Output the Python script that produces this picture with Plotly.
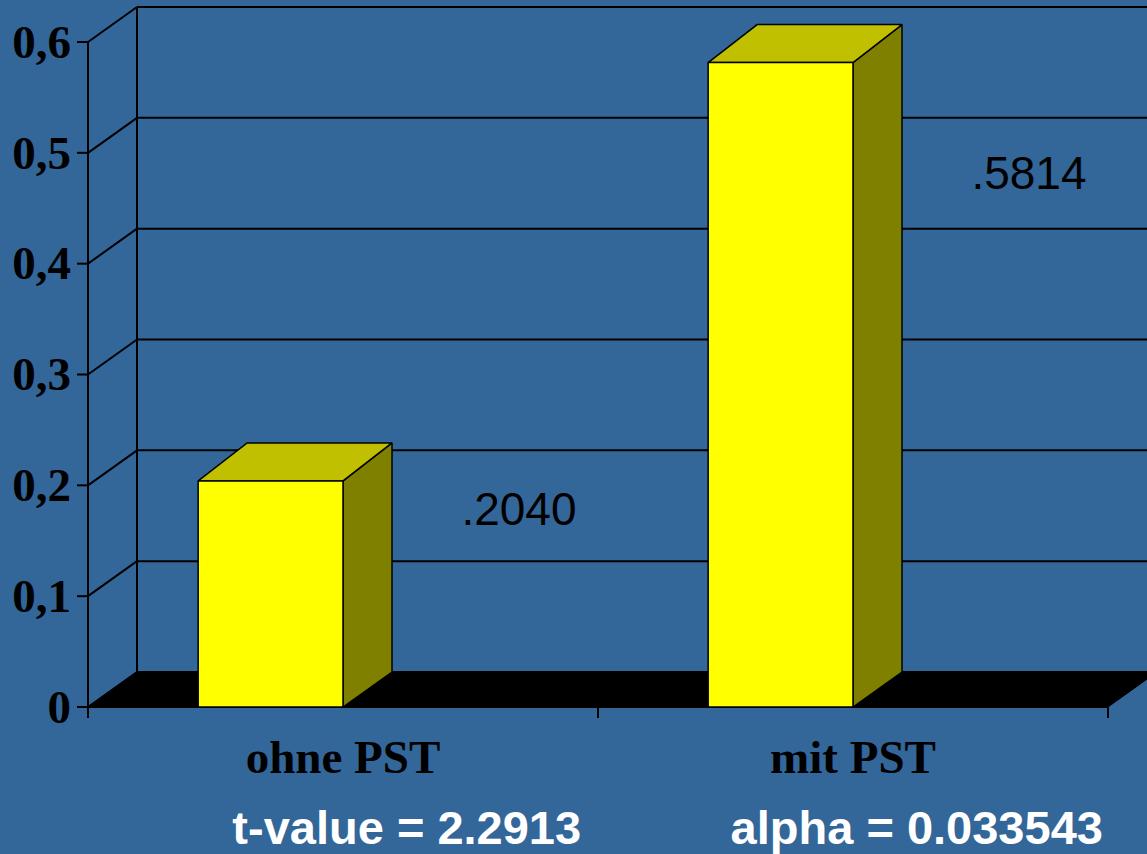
import plotly.graph_objects as go

# ---------------- data ----------------
categories = ["ohne PST", "mit PST"]
values = [0.2040, 0.5814]
value_labels = [".2040", ".5814"]
y_ticks = [0, 0.1, 0.2, 0.3, 0.4, 0.5, 0.6]
y_tick_labels = ["0", "0,1", "0,2", "0,3", "0,4", "0,5", "0,6"]
stat_labels = ["t-value = 2.2913", "alpha = 0.033543"]

# ---------------- geometry / style ----------------
W, H = 1147, 854
X0PX, Y0PX = 88, 707            # pixel position of the data origin
PX_PER_X = 510.0                # pixels per category slot
PX_PER_Y = 665.0 / 0.6          # pixels per value unit


def dxp(p):
    return p / PX_PER_X


def dyp(p):
    return p / PX_PER_Y


DX = dxp(49)          # depth offset (x)
DY = dyp(35)          # depth offset (y) at floor
DY_TOP = dyp(38)      # depth offset (y) at bar tops
BAR_L, BAR_R = 0.216, 0.5
LABEL_DX = 0.845
LABEL_DROP = [0.029, 0.104]
BG = "#336699"
n = len(categories)
ymax = max(y_ticks)
XMAX = (W - X0PX) / PX_PER_X

fig = go.Figure()


def add_lines(xs, ys, width=2, color="black"):
    fig.add_trace(go.Scatter(x=xs, y=ys, mode="lines", hoverinfo="skip",
                             line=dict(color=color, width=width)))


# floor
fig.add_trace(go.Scatter(x=[0, n, n + DX, DX, 0], y=[0, 0, DY, DY, 0],
                         mode="lines", fill="toself", fillcolor="black",
                         line=dict(color="black", width=1), hoverinfo="skip"))

# back grid lines, left wall diagonals
gx, gy, sx, sy = [], [], [], []
for v in y_ticks:
    gx += [DX, XMAX + 1, None]
    gy += [v + DY, v + DY, None]
    sx += [0, DX, None]
    sy += [v, v + DY, None]
add_lines(gx, gy)
add_lines(sx, sy)
# back wall vertical
add_lines([DX, DX], [DY, ymax + DY])

# y axis + ticks
add_lines([0, 0], [-dyp(11), ymax])
tx, ty = [], []
for v in y_ticks:
    tx += [-dxp(11), 0, None]
    ty += [v, v, None]
add_lines(tx, ty)
# x axis + ticks
add_lines([0, n], [0, 0])
xx, xy = [], []
for i in range(n + 1):
    xx += [i, i, None]
    xy += [0, -dyp(11), None]
add_lines(xx, xy)

# bars
fx, fy, topx, topy, sdx, sdy = [], [], [], [], [], []
for i, v in enumerate(values):
    l, r = i + BAR_L, i + BAR_R
    fx += [l, r, r, l, l, None]
    fy += [0, 0, v, v, 0, None]
    topx += [l, r, r + DX, l + DX, l, None]
    topy += [v, v, v + DY_TOP, v + DY_TOP, v, None]
    sdx += [r, r + DX, r + DX, r, r, None]
    sdy += [0, DY, v + DY_TOP, v, 0, None]
for px, py, col in [(sdx, sdy, "#808000"), (topx, topy, "#C0C000"), (fx, fy, "#FFFF00")]:
    fig.add_trace(go.Scatter(x=px, y=py, mode="lines", fill="toself", fillcolor=col,
                             line=dict(color="black", width=1.5), hoverinfo="skip"))

# y tick labels
fig.add_trace(go.Scatter(x=[-dxp(17)] * len(y_ticks), y=[v - dyp(4) for v in y_ticks],
                         mode="text", text=y_tick_labels, textposition="middle left",
                         textfont=dict(family="Liberation Serif", size=47,
                                       color="black", weight="bold"),
                         hoverinfo="skip", cliponaxis=False))
# category labels
fig.add_trace(go.Scatter(x=[i + 0.5 for i in range(n)], y=[-dyp(54)] * n, mode="text",
                         text=categories, textposition="middle center",
                         textfont=dict(family="Liberation Serif", size=47,
                                       color="black", weight="bold"),
                         hoverinfo="skip", cliponaxis=False))
# value labels
fig.add_trace(go.Scatter(x=[i + LABEL_DX for i in range(n)],
                         y=[v - d for v, d in zip(values, LABEL_DROP)], mode="text",
                         text=value_labels, textposition="middle center",
                         textfont=dict(family="Liberation Sans", size=46, color="black"),
                         hoverinfo="skip", cliponaxis=False))
# statistics
fig.add_trace(go.Scatter(x=[i + 0.625 for i in range(n)], y=[-dyp(125)] * n, mode="text",
                         text=stat_labels, textposition="middle center",
                         textfont=dict(family="Liberation Sans", size=47,
                                       color="white", weight="bold"),
                         hoverinfo="skip", cliponaxis=False))

fig.update_layout(
    width=W, height=H, margin=dict(l=0, r=0, t=0, b=0),
    paper_bgcolor=BG, plot_bgcolor=BG, showlegend=False,
    xaxis=dict(range=[-X0PX / PX_PER_X, XMAX], visible=False, fixedrange=True),
    yaxis=dict(range=[-(H - Y0PX) / PX_PER_Y, Y0PX / PX_PER_Y], visible=False, fixedrange=True),
)

fig.write_html("out.html", config={"displayModeBar": False},
               post_script="document.body.style.margin='0px';document.body.style.background='" + BG + "';")
